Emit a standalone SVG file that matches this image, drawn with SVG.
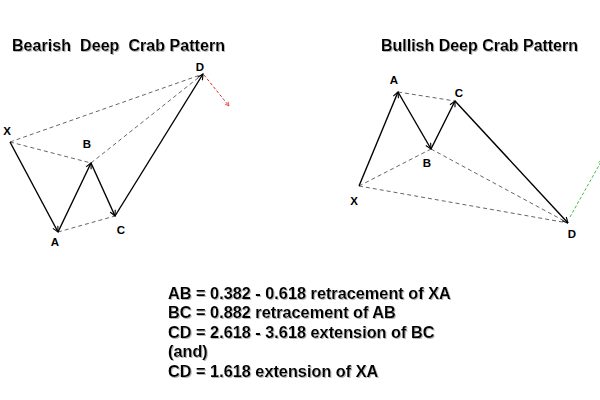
<svg xmlns="http://www.w3.org/2000/svg" width="600" height="400" viewBox="0 0 600 400">
<defs>
<marker id="ah" viewBox="0 0 10 10" refX="9" refY="5" markerWidth="7" markerHeight="7" orient="auto" markerUnits="userSpaceOnUse">
<path d="M1,1 L9,5 L1,9" fill="none" stroke="#000" stroke-width="1.6"/>
</marker>
<marker id="ahr" viewBox="0 0 10 10" refX="9" refY="5" markerWidth="5" markerHeight="5" orient="auto" markerUnits="userSpaceOnUse">
<path d="M1,1 L9,5 L1,9" fill="none" stroke="#e03030" stroke-width="1.5"/>
</marker>
<marker id="ahg" viewBox="0 0 10 10" refX="9" refY="5" markerWidth="5" markerHeight="5" orient="auto" markerUnits="userSpaceOnUse">
<path d="M1,1 L9,5 L1,9" fill="none" stroke="#40c040" stroke-width="1.5"/>
</marker>
<filter id="sh" x="-5%" y="-20%" width="110%" height="150%">
<feDropShadow dx="1" dy="1" stdDeviation="0.6" flood-color="#999" flood-opacity="0.7"/>
</filter>
</defs>
<style>
text{font-family:"Liberation Sans",Arial,sans-serif;font-weight:bold;fill:#000}
.title{font-size:16px;filter:url(#sh)}
.lbl{font-size:11.5px;text-anchor:middle}
.info{font-size:16.3px;filter:url(#sh)}
.solid{stroke:#000;stroke-width:1.4;fill:none;marker-end:url(#ah)}
.dash{stroke:#666;stroke-width:1;fill:none;stroke-dasharray:4 3}
</style>
<rect width="600" height="400" fill="#fff"/>

<g id="titles">
<text class="title" x="12" y="51" xml:space="preserve" textLength="213">Bearish  Deep  Crab Pattern</text>
<text class="title" x="381" y="51" textLength="197">Bullish Deep Crab Pattern</text>
</g>

<g id="connectors">
<line class="dash" x1="10" y1="142" x2="203" y2="74"/>
<line class="dash" x1="10" y1="142" x2="91" y2="163"/>
<line class="dash" x1="91" y1="163" x2="203" y2="74"/>
<line class="dash" x1="58" y1="232" x2="115" y2="216"/>
<line stroke="#e03030" stroke-width="1" stroke-dasharray="3 2" x1="204" y1="75" x2="229" y2="106" marker-end="url(#ahr)"/>
<line class="solid" x1="10" y1="142" x2="58" y2="232"/>
<line class="solid" x1="58" y1="232" x2="91" y2="163"/>
<line class="solid" x1="91" y1="163" x2="115" y2="216"/>
<line class="solid" x1="115" y1="216" x2="203" y2="74"/>

<line class="dash" x1="359" y1="186" x2="431" y2="149"/>
<line class="dash" x1="359" y1="186" x2="568" y2="223"/>
<line class="dash" x1="398" y1="92" x2="455" y2="101"/>
<line class="dash" x1="431" y1="149" x2="568" y2="223"/>
<line stroke="#40c040" stroke-width="1" stroke-dasharray="3 2" x1="570" y1="217" x2="602" y2="160" marker-end="url(#ahg)"/>
<line class="solid" x1="359" y1="186" x2="398" y2="92"/>
<line class="solid" x1="398" y1="92" x2="431" y2="149"/>
<line class="solid" x1="431" y1="149" x2="455" y2="101"/>
<line class="solid" x1="455" y1="101" x2="568" y2="223"/>
</g>

<g id="bear-X"><text class="lbl" x="7" y="135">X</text></g>
<g id="bear-A"><text class="lbl" x="55" y="246">A</text></g>
<g id="bear-B"><text class="lbl" x="87" y="148">B</text></g>
<g id="bear-C"><text class="lbl" x="121" y="234">C</text></g>
<g id="bear-D"><text class="lbl" x="200" y="71">D</text></g>

<g id="bull-X"><text class="lbl" x="354" y="205">X</text></g>
<g id="bull-A"><text class="lbl" x="394" y="84">A</text></g>
<g id="bull-B"><text class="lbl" x="427" y="167">B</text></g>
<g id="bull-C"><text class="lbl" x="459" y="97">C</text></g>
<g id="bull-D"><text class="lbl" x="572" y="238">D</text></g>

<g id="rules">
<text class="info" x="168" y="299">AB = 0.382 - 0.618 retracement of XA</text>
<text class="info" x="168" y="318">BC = 0.882 retracement of AB</text>
<text class="info" x="168" y="338">CD = 2.618 - 3.618 extension of BC</text>
<text class="info" x="168" y="357">(and)</text>
<text class="info" x="168" y="377">CD = 1.618 extension of XA</text>
</g>
</svg>
